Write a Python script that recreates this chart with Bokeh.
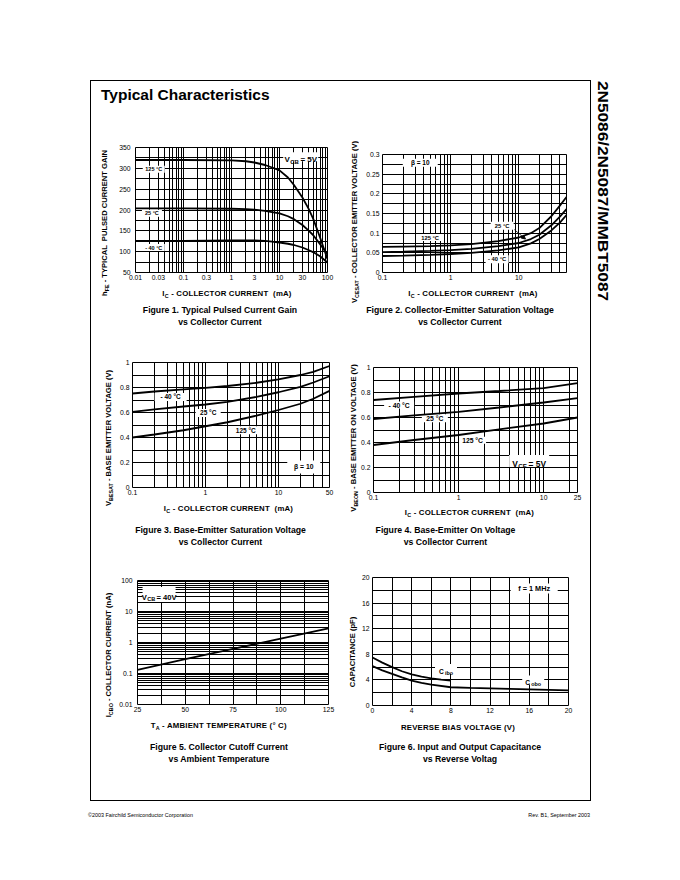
import math
from bokeh.plotting import figure
from bokeh.models import (Range1d, FixedTicker, CustomJSTickFormatter, Label, Div, Spacer,
                          Arrow, NormalHead)
from bokeh.layouts import row, column
from bokeh.embed import file_html
from bokeh.resources import INLINE

FONT = "Liberation Sans"
CSS_FONT = "'Liberation Sans', Arial, Helvetica, sans-serif"

# ---------------- Figure 1 : hFE vs IC ----------------
f1_ic = [0.01, 0.1, 1, 2, 3, 5, 7, 10, 15, 20, 30, 40, 50, 70, 100]
f1_hfe_125 = [320, 320, 319, 317, 314, 308, 302, 295, 278, 260, 230, 204, 180, 134, 82]
f1_hfe_25 = [204, 204, 203, 202, 201, 198, 195, 192, 185, 178, 164, 151, 140, 118, 94]
f1_hfe_m40 = [126, 126, 127, 127, 127, 126, 124, 122, 119, 116, 110, 104, 99, 89, 74]
f1_x_ticks = [0.01, 0.03, 0.1, 0.3, 1, 3, 10, 30, 100]
f1_x_labels = ["0.01", "0.03", "0.1", "0.3", "1", "3", "10", "30", "100"]
f1_y_ticks = [50, 100, 150, 200, 250, 300, 350]
f1_y_labels = ["50", "100", "150", "200", "250", "300", "350"]
f1_temp_text = ["125 °C", "25 °C", "- 40 °C"]
f1_temp_x = [0.024, 0.022, 0.024]
f1_temp_y = [298, 192, 110]

# ---------------- Figure 2 : VCE(sat) vs IC ----------------
f2_ic = [0.1, 0.2, 0.5, 1, 2, 5, 10, 15, 20, 30, 40, 50]
f2_v_125 = [0.065, 0.066, 0.067, 0.069, 0.072, 0.080, 0.089, 0.100, 0.113, 0.143, 0.170, 0.192]
f2_v_25 = [0.052, 0.053, 0.055, 0.057, 0.060, 0.067, 0.075, 0.085, 0.096, 0.120, 0.142, 0.161]
f2_v_m40 = [0.042, 0.043, 0.045, 0.047, 0.050, 0.056, 0.064, 0.074, 0.085, 0.107, 0.127, 0.146]
f2_x_ticks = [0.1, 1, 10]
f2_x_labels = ["0.1", "1", "10"]
f2_y_ticks = [0, 0.05, 0.1, 0.15, 0.2, 0.25, 0.3]
f2_y_labels = ["0", "0.05", "0.1", "0.15", "0.2", "0.25", "0.3"]
f2_temp_text = ["125 °C", "25 °C", "- 40 °C"]
f2_temp_x = [0.5, 5.69, 4.8]
f2_temp_y = [0.0887, 0.119, 0.0338]

# ---------------- Figure 3 : VBE(sat) vs IC ----------------
f3_ic = [0.1, 0.2, 0.5, 1, 2, 5, 10, 20, 30, 50]
f3_v_m40 = [0.752, 0.768, 0.785, 0.797, 0.812, 0.838, 0.865, 0.900, 0.925, 0.972]
f3_v_25 = [0.605, 0.625, 0.648, 0.664, 0.685, 0.725, 0.762, 0.805, 0.840, 0.890]
f3_v_125 = [0.400, 0.424, 0.458, 0.490, 0.522, 0.575, 0.620, 0.670, 0.710, 0.773]
f3_x_ticks = [0.1, 1, 10, 50]
f3_x_labels = ["0.1", "1", "10", "50"]
v_ticks = [0, 0.2, 0.4, 0.6, 0.8, 1]
v_labels = ["0", "0.2", "0.4", "0.6", "0.8", "1"]
f3_temp_text = ["- 40 °C", "25 °C", "125 °C"]
f3_temp_x = [0.333, 1.09, 3.56]
f3_temp_y = [0.725, 0.597, 0.459]

# ---------------- Figure 4 : VBE(on) vs IC ----------------
f4_ic = [0.1, 0.3, 1, 3, 10, 25]
f4_v_m40 = [0.740, 0.765, 0.792, 0.812, 0.835, 0.875]
f4_v_25 = [0.588, 0.617, 0.645, 0.680, 0.720, 0.755]
f4_v_125 = [0.380, 0.420, 0.460, 0.505, 0.552, 0.600]
f4_x_ticks = [0.1, 1, 10, 25]
f4_x_labels = ["0.1", "1", "10", "25"]
f4_temp_text = ["- 40 °C", "25 °C", "125 °C"]
f4_temp_x = [0.2, 0.526, 1.46]
f4_temp_y = [0.70, 0.595, 0.419]

# ---------------- Figure 5 : ICBO vs TA ----------------
f5_ta = [25, 50, 75, 100, 125]
f5_icbo = [0.13, 0.29, 0.62, 1.33, 2.85]
f5_x_ticks = [25, 50, 75, 100, 125]
f5_x_labels = ["25", "50", "75", "100", "125"]
f5_y_ticks = [0.01, 0.1, 1, 10, 100]
f5_y_labels = ["0.01", "0.1", "1", "10", "100"]

# ---------------- Figure 6 : Capacitance vs VR ----------------
f6_v_ibo = [0, 1, 2, 3, 4, 5, 6, 7, 8]
f6_c_ibo = [7.5, 6.7, 6.0, 5.35, 4.85, 4.5, 4.25, 4.05, 3.9]
f6_v_obo = [0, 1, 2, 3, 4, 5, 6, 8, 10, 12, 14, 16, 18, 20]
f6_c_obo = [6.15, 5.5, 4.95, 4.4, 3.9, 3.55, 3.25, 2.85, 2.75, 2.68, 2.6, 2.52, 2.45, 2.35]
f6_ticks = [0, 4, 8, 12, 16, 20]
f6_labels = ["0", "4", "8", "12", "16", "20"]

# ---------------- helpers ----------------
W_BOLD = {'V': .667, 'C': .722, 'B': .722, 'E': .667, '=': .584, ' ': .278, 'M': .833,
          'H': .722, 'z': .5, 'f': .333, 'i': .278, 'b': .611, 'o': .611, 'O': .778,
          'N': .722, 'A': .722, '°': .4, 'β': .611, '-': .333}
for d in "0123456789":
    W_BOLD[d] = .556


def text_w(s, size):
    return sum(W_BOLD.get(ch, 0.6) for ch in s) * size


def log_grid(lo, hi):
    out = []
    e = math.floor(math.log10(lo) + 1e-9)
    while 10.0 ** e <= hi * 1.0001:
        for m in range(1, 10):
            v = round(m * 10.0 ** e, 10)
            if lo * 0.9999 <= v <= hi * 1.0001:
                out.append(v)
        e += 1
    return out


def lin_grid(lo, hi, step):
    n = int(round((hi - lo) / step))
    return [round(lo + i * step, 10) for i in range(n + 1)]


def tick_fmt(ticks, labels):
    return CustomJSTickFormatter(args=dict(t=list(ticks), l=list(labels)), code="""
        for (let i = 0; i < t.length; i++) {
            if (Math.abs(t[i] - tick) <= 1e-9 * Math.max(1, Math.abs(t[i]))) return l[i];
        }
        return "";
    """)


def bl(size, lh):
    return (lh - 1.117 * size) / 2 + 0.905 * size


BOT = 12


def make_fig(frame, rtop, cl, br, xr, yr, xlog, ylog, xt, xl, yt, yl, xg, yg, ystand):
    l, t, r, b = frame
    p = figure(width=br - cl, height=(b - rtop) + BOT,
               x_range=Range1d(*xr), y_range=Range1d(*yr),
               x_axis_type="log" if xlog else "linear",
               y_axis_type="log" if ylog else "linear",
               output_backend="svg", toolbar_location=None,
               min_border_left=l - cl, min_border_right=br - r,
               min_border_top=t - rtop, min_border_bottom=BOT)
    p.background_fill_color = "white"
    p.border_fill_color = "white"
    p.outline_line_color = "black"
    p.outline_line_width = 1
    p.outline_line_alpha = 1
    for ax, ticks, labels, stand in ((p.xaxis[0], xt, xl, 2), (p.yaxis[0], yt, yl, ystand)):
        ax.ticker = FixedTicker(ticks=ticks)
        ax.formatter = tick_fmt(ticks, labels)
        ax.axis_line_color = None
        ax.major_tick_line_color = None
        ax.minor_tick_line_color = None
        ax.major_tick_out = 0
        ax.major_tick_in = 0
        ax.minor_tick_out = 0
        ax.minor_tick_in = 0
        ax.major_label_standoff = stand
        ax.major_label_text_font = FONT
        ax.major_label_text_font_size = "6.8px"
        ax.major_label_text_color = "black"
    p.xgrid[0].ticker = FixedTicker(ticks=xg)
    p.ygrid[0].ticker = FixedTicker(ticks=yg)
    for g in (p.xgrid[0], p.ygrid[0]):
        g.grid_line_color = "black"
        g.grid_line_alpha = 1
        g.grid_line_width = 1
    return p


def boxes(p, xs, ys, ws, hs):
    p.rect(x=xs, y=ys, width=ws, height=hs, width_units="screen", height_units="screen",
           fill_color="white", line_color=None)


def label(p, x, y, txt, size, bold=True):
    p.add_layout(Label(x=x, y=y, text=txt, text_align="center", text_baseline="middle",
                       text_font=FONT, text_font_size=f"{size}px",
                       text_font_style="bold" if bold else "normal", text_color="black"))


def composite(p, x, y, pieces, main_size):
    # pieces: (text, size, dy, gap_before)
    widths = [text_w(tx, sz) + gap for tx, sz, dy, gap in pieces]
    xo = -sum(widths) / 2
    cap = 0.716 * main_size
    for (tx, sz, dy, gap), w in zip(pieces, widths):
        p.add_layout(Label(x=x, y=y, text=tx, x_offset=xo + gap, y_offset=-cap / 2 + dy,
                           text_align="left", text_baseline="alphabetic", text_font=FONT,
                           text_font_size=f"{sz}px", text_font_style="bold", text_color="black"))
        xo += w


def curve(p, x, y, w=1.8):
    p.line(x, y, line_color="black", line_width=w)


# ---------------- chart drawing ----------------
def draw1(frame, rtop, cl, br):
    p = make_fig(frame, rtop, cl, br, (0.01, 100), (50, 350), True, False,
                 f1_x_ticks, f1_x_labels, f1_y_ticks, f1_y_labels,
                 log_grid(0.01, 100), lin_grid(50, 350, 25), 5)
    boxes(p, f1_temp_x, f1_temp_y, [22, 20, 22], [7, 7, 7])
    boxes(p, [27.7], [327.6], [35], [9])
    curve(p, f1_ic, f1_hfe_125)
    curve(p, f1_ic, f1_hfe_25)
    curve(p, f1_ic, f1_hfe_m40)
    for tx, x, y in zip(f1_temp_text, f1_temp_x, f1_temp_y):
        label(p, x, y, tx, 5.5)
    composite(p, 27.7, 327.6, [("V", 8, 0, 0), ("CB", 6, -2, 0.4), ("= 5V", 8, 0, 1.6)], 8)
    return p


def draw2(frame, rtop, cl, br):
    p = make_fig(frame, rtop, cl, br, (0.1, 50), (0, 0.3), True, False,
                 f2_x_ticks, f2_x_labels, f2_y_ticks, f2_y_labels,
                 log_grid(0.1, 50), lin_grid(0, 0.3, 0.025), 3)
    boxes(p, f2_temp_x, f2_temp_y, [23, 23, 23], [7, 8, 8])
    boxes(p, [0.358], [0.279], [35], [8])
    curve(p, f2_ic, f2_v_125)
    curve(p, f2_ic, f2_v_25)
    curve(p, f2_ic, f2_v_m40)
    for tx, x, y in zip(f2_temp_text, f2_temp_x, f2_temp_y):
        label(p, x, y, tx, 5.8)
    label(p, 0.358, 0.279, "β = 10", 6.5)
    p.add_layout(Arrow(x_start=8.6, y_start=0.109, x_end=12.5, y_end=0.085, line_width=0.8,
                       end=NormalHead(size=4, fill_color="black", line_color="black")))
    return p


def draw3(frame, rtop, cl, br):
    p = make_fig(frame, rtop, cl, br, (0.1, 50), (0, 1), True, False,
                 f3_x_ticks, f3_x_labels, v_ticks, v_labels,
                 log_grid(0.1, 50), lin_grid(0, 1, 0.1), 3)
    boxes(p, f3_temp_x, f3_temp_y, [32, 25, 23], [8, 8, 8])
    boxes(p, [22.2], [0.165], [33], [13])
    curve(p, f3_ic, f3_v_m40)
    curve(p, f3_ic, f3_v_25)
    curve(p, f3_ic, f3_v_125)
    for tx, x, y in zip(f3_temp_text, f3_temp_x, f3_temp_y):
        label(p, x, y, tx, 6.5)
    label(p, 22.2, 0.165, "β = 10", 6.8)
    return p


def draw4(frame, rtop, cl, br):
    p = make_fig(frame, rtop, cl, br, (0.1, 25), (0, 1), True, False,
                 f4_x_ticks, f4_x_labels, v_ticks, v_labels,
                 log_grid(0.1, 25), lin_grid(0, 1, 0.1), 3)
    boxes(p, f4_temp_x, f4_temp_y, [30, 26, 27], [7, 8, 7])
    boxes(p, [6.76], [0.253], [40], [12])
    curve(p, f4_ic, f4_v_m40)
    curve(p, f4_ic, f4_v_25)
    curve(p, f4_ic, f4_v_125)
    for tx, x, y in zip(f4_temp_text, f4_temp_x, f4_temp_y):
        label(p, x, y, tx, 6.8)
    composite(p, 6.76, 0.253, [("V", 8.4, 0, 0), ("CE", 6.2, -2, 0.4), ("= 5V", 8.4, 0, 1.6)], 8.4)
    return p


def draw5(frame, rtop, cl, br):
    p = make_fig(frame, rtop, cl, br, (25, 125), (0.01, 100), False, True,
                 f5_x_ticks, f5_x_labels, f5_y_ticks, f5_y_labels,
                 lin_grid(25, 125, 12.5), log_grid(0.01, 100), 5)
    boxes(p, [36.3], [35.5], [33], [15])
    curve(p, f5_ta, f5_icbo)
    composite(p, 36.3, 35.5, [("V", 7.6, 0, 0), ("CB", 5.6, -2, 0.4), ("= 40V", 7.6, 0, 1.2)], 7.6)
    return p


def draw6(frame, rtop, cl, br):
    p = make_fig(frame, rtop, cl, br, (0, 20), (0, 20), False, False,
                 f6_ticks, f6_labels, f6_ticks, f6_labels,
                 lin_grid(0, 20, 2), lin_grid(0, 20, 2), 3)
    boxes(p, [7.5, 16.4, 16.5], [5.7, 3.97, 18.3], [22, 22, 47], [10, 9, 10])
    curve(p, f6_v_ibo, f6_c_ibo)
    curve(p, f6_v_obo, f6_c_obo)
    composite(p, 7.5, 5.7, [("C", 6.6, 0, 0), ("ibo", 5.4, -2, 1.2)], 6.6)
    composite(p, 16.4, 3.97, [("C", 6.6, 0, 0), ("obo", 5.4, -2, 1.2)], 6.6)
    label(p, 16.5, 18.3, "f = 1 MHz", 7.3)
    return p


# ---------------- text blocks (HTML) ----------------
def sub(t, size=5.4, dy=1.8):
    return f'<span style="font-size:{size}px;position:relative;top:{dy}px;">{t}</span>'


def ydiv(width, height, cx, cy, html, size=7.6):
    inner = (f'<div style="position:relative;left:{cx}px;top:{cy}px;width:0;height:0;">'
             f'<div style="position:absolute;left:0;top:0;transform:translate(-50%,-50%) rotate(-90deg);'
             f'white-space:nowrap;font-family:{CSS_FONT};font-weight:bold;font-size:{size}px;'
             f'line-height:{size}px;color:#000;">{html}</div></div>')
    return Div(text=inner, width=width, height=height, margin=0)


def hdiv(width, height, cx_rel, base_rel, html, size, lh, spacing=0):
    top = base_rel - bl(size, lh)
    inner = (f'<div style="position:relative;left:{cx_rel - width / 2:.2f}px;top:{top:.2f}px;'
             f'width:{width}px;text-align:center;white-space:nowrap;font-family:{CSS_FONT};'
             f'font-weight:bold;font-size:{size}px;line-height:{lh}px;letter-spacing:{spacing}px;'
             f'color:#000;">{html}</div>')
    return Div(text=inner, width=width, height=height, margin=0)


XL_IC = "I" + sub("C") + " - COLLECTOR CURRENT &nbsp;(mA)"
XL_TA = "T" + sub("A") + " - AMBIENT TEMPERATURE (° C)"

ROWS = [(110, 340), (340, 556), (556, 801)]
COLS = [(90, 114, 336), (336, 358, 589)]

specs = [
    (0, 0, (135, 147, 327, 272), draw1,
     ("h" + sub("FE") + " - TYPICAL &nbsp;PULSED CURRENT GAIN", 105, 211),
     (XL_IC, 227, 291),
     (["Figure 1. Typical Pulsed Current Gain", "vs Collector Current"], 220, 314)),
    (0, 1, (382, 154, 566, 272), draw2,
     ("V" + sub("CESAT") + " - COLLECTOR EMITTER VOLTAGE (V)", 355, 210),
     (XL_IC, 473, 291),
     (["Figure 2. Collector-Emitter Saturation Voltage", "vs Collector Current"], 460, 314)),
    (1, 0, (132, 362, 329, 487), draw3,
     ("V" + sub("BESAT") + " - BASE EMITTER VOLTAGE (V)", 109, 426),
     (XL_IC, 228.5, 506),
     (["Figure 3. Base-Emitter Saturation Voltage", "vs Collector Current"], 220.5, 534)),
    (1, 1, (373, 367, 577, 492), draw4,
     ("V" + sub("BEON") + " - BASE EMITTER ON VOLTAGE (V)", 353.5, 426),
     (XL_IC, 469.5, 510),
     (["Figure 4. Base-Emitter On Voltage", "vs Collector Current"], 445.5, 534)),
    (2, 0, (137, 580, 328, 704), draw5,
     ("I" + sub("CBO") + " - COLLECTOR CURRENT (nA)", 108.5, 643),
     (XL_TA, 218.7, 723),
     (["Figure 5. Collector Cutoff Current", "vs Ambient Temperature"], 219, 751)),
    (2, 1, (369, 577, 568, 705), draw6,
     ("CAPACITANCE (pF)", 352.5, 640),
     ("REVERSE BIAS VOLTAGE (V)", 458, 725),
     (["Figure 6. Input and Output Capacitance", "vs Reverse Voltag"], 460, 751)),
]

blocks = {}
for ri, ci, frame, drawer, ylab, xlab, cap in specs:
    rtop, rbot = ROWS[ri]
    bleft, cl, br = COLS[ci]
    p = drawer(frame, rtop, cl, br)
    l, t, r, b = frame
    cw = br - cl
    yd = ydiv(cl - bleft, rbot - rtop, ylab[1] - bleft, ylab[2] - rtop, ylab[0])
    xtop = b + BOT
    xd = hdiv(cw, 14, xlab[1] - cl, xlab[2] - xtop, xlab[0], 7.8, 9, 0.2)
    ctop = xtop + 14
    cd = hdiv(cw, rbot - ctop, cap[1] - cl, cap[2] - ctop, "<br>".join(cap[0]), 8.7, 11.3)
    blocks[(ri, ci)] = row(yd, column(p, xd, cd))

title = Div(text=(f'<div style="position:relative;left:11px;top:{20.3 - bl(15.5, 16):.2f}px;'
                  f'font-family:{CSS_FONT};font-weight:bold;font-size:15.5px;line-height:16px;'
                  f'white-space:nowrap;color:#000;">Typical Characteristics</div>'),
            width=501, height=30, margin=0)

frame_col = column(title,
                   row(blocks[(0, 0)], blocks[(0, 1)]),
                   row(blocks[(1, 0)], blocks[(1, 1)]),
                   row(blocks[(2, 0)], blocks[(2, 1)]),
                   styles={"outline": "1px solid #000", "outline-offset": "-1px"})

side = Div(text=(f'<div style="position:relative;left:12px;top:105px;width:0;height:0;">'
                 f'<div style="position:absolute;left:0;top:0;transform:translate(-50%,-50%) rotate(90deg) scaleX(1.23);'
                 f'white-space:nowrap;font-family:{CSS_FONT};font-weight:bold;font-size:14px;'
                 f'line-height:14px;color:#000;">2N5086/2N5087/MMBT5087</div></div>'),
           width=30, height=260, margin=0)

footer = Div(text=(f'<div style="position:relative;left:88px;top:{9 - bl(5.4, 7):.2f}px;width:502px;'
                   f'display:flex;justify-content:space-between;font-family:{CSS_FONT};font-size:5.4px;'
                   f'line-height:7px;white-space:nowrap;color:#000;">'
                   '<span>©2003 Fairchild Semiconductor Corporation</span>'
                   '<span>Rev. B1, September 2003</span></div>'),
             width=610, height=16, margin=0)

page = column(Spacer(width=1, height=74),
              row(Spacer(width=90, height=1), column(Spacer(width=1, height=6), frame_col), side),
              footer)

open("out.html", "w", encoding="utf-8").write(file_html(page, INLINE))
